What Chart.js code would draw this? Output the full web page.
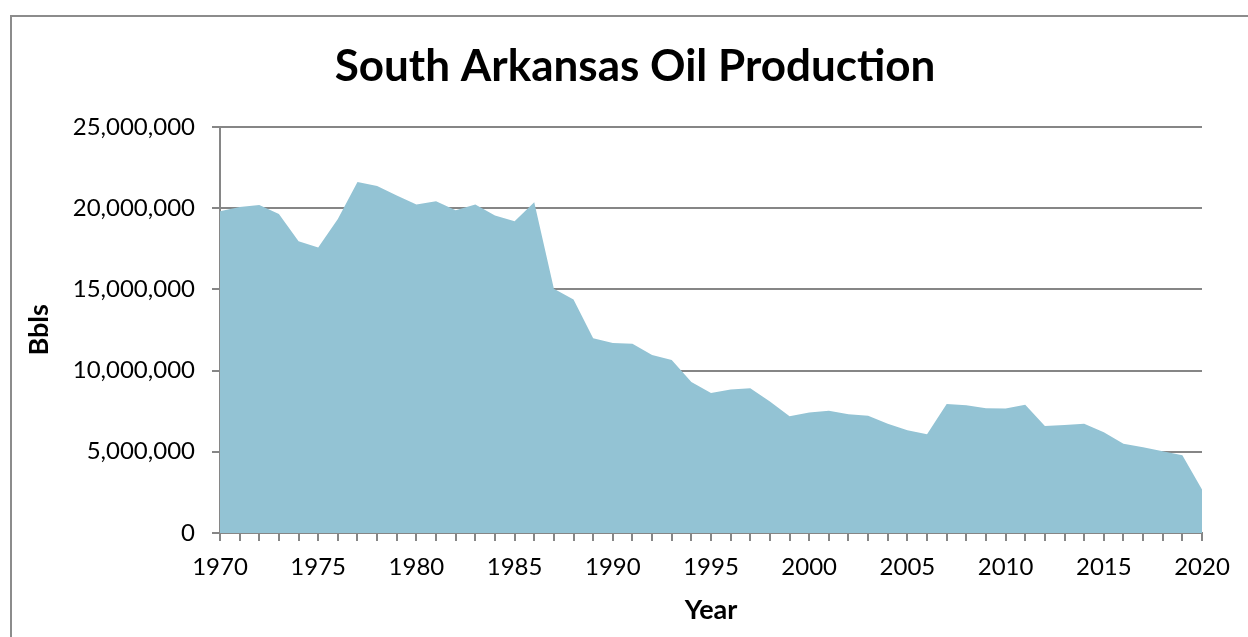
<!DOCTYPE html>
<html>
<head>
<meta charset="utf-8">
<script src="https://cdn.jsdelivr.net/npm/chart.js@4"></script>
<style>
  body { margin: 0; overflow: hidden; background: #fff; }
  #frame { position: absolute; left: 10px; top: 15px; width: 1300px; height: 700px; border: 2px solid #8c8c8c; }
  #wrap { position: absolute; left: 0; top: 0; width: 1248px; height: 637px; }
</style>
</head>
<body>
<div id="frame"></div>
<div id="wrap"><canvas id="chart"></canvas></div>
<script>
const anos = [1970, 1971, 1972, 1973, 1974, 1975, 1976, 1977, 1978, 1979,
  1980, 1981, 1982, 1983, 1984, 1985, 1986, 1987, 1988, 1989,
  1990, 1991, 1992, 1993, 1994, 1995, 1996, 1997, 1998, 1999,
  2000, 2001, 2002, 2003, 2004, 2005, 2006, 2007, 2008, 2009,
  2010, 2011, 2012, 2013, 2014, 2015, 2016, 2017, 2018, 2019, 2020];

// barris por ano
const producao = [19800000, 20070000, 20180000, 19640000, 17960000, 17570000, 19330000, 21610000, 21350000, 20770000,
  20220000, 20420000, 19870000, 20220000, 19540000, 19190000, 20360000, 15040000, 14370000, 11990000,
  11700000, 11640000, 10960000, 10650000, 9300000, 8620000, 8830000, 8910000, 8090000, 7180000,
  7410000, 7530000, 7310000, 7220000, 6730000, 6320000, 6080000, 7940000, 7860000, 7680000,
  7660000, 7900000, 6590000, 6650000, 6730000, 6200000, 5500000, 5270000, 5030000, 4780000, 2670000];

const limitesY = [0, 25000000];
const passoY = 5000000;

const cinza = '#868686';
const fonteTicks = { family: 'Lato', size: 24 };

new Chart(document.getElementById('chart'), {
  type: 'line',
  data: {
    labels: anos,
    datasets: [{
      data: producao,
      fill: 'origin',
      backgroundColor: '#93c3d4',
      borderWidth: 0,
      pointRadius: 0,
      tension: 0
    }]
  },
  options: {
    responsive: true,
    maintainAspectRatio: false,
    animation: false,
    layout: { padding: { left: 26, right: 4, top: 0, bottom: 0 } },
    plugins: {
      legend: { display: false },
      tooltip: { enabled: false },
      title: {
        display: true,
        text: 'South Arkansas Oil Production',
        color: '#000',
        font: { family: 'Lato', size: 44, weight: 'bold' },
        padding: { top: 40, bottom: 34 }
      }
    },
    scales: {
      x: {
        type: 'category',
        offset: false,
        grid: { drawOnChartArea: false, drawTicks: true, tickLength: 8, color: cinza, lineWidth: 2 },
        border: { color: cinza, width: 2 },
        ticks: {
          autoSkip: false,
          maxRotation: 0,
          color: '#000',
          font: fonteTicks,
          padding: 12,
          callback: function(v, i) {
            const a = anos[i];
            return a % 5 === 0 ? String(a) : '';
          }
        },
        title: { display: true, text: 'Year', color: '#000', font: { family: 'Lato', size: 27, weight: 'bold' }, padding: { top: 0, bottom: 11 } },
        afterFit: s => { s.height = 104; }
      },
      y: {
        min: limitesY[0],
        max: limitesY[1],
        grid: { color: cinza, lineWidth: 2, tickLength: 8 },
        border: { color: cinza, width: 2 },
        ticks: {
          stepSize: passoY,
          color: '#000',
          font: fonteTicks,
          padding: 17,
          callback: v => v.toLocaleString('en-US')
        },
        title: { display: true, text: 'Bbls', color: '#000', font: { family: 'Lato', size: 27, weight: 'bold', lineHeight: 1 }, padding: { top: 0, bottom: 0 } },
        afterFit: s => { s.width = 194; }
      },
      y2: {
        position: 'right',
        grid: { display: false },
        border: { display: false },
        ticks: { display: false },
        afterFit: s => { s.width = 42; }
      }
    }
  }
});
</script>
</body>
</html>
